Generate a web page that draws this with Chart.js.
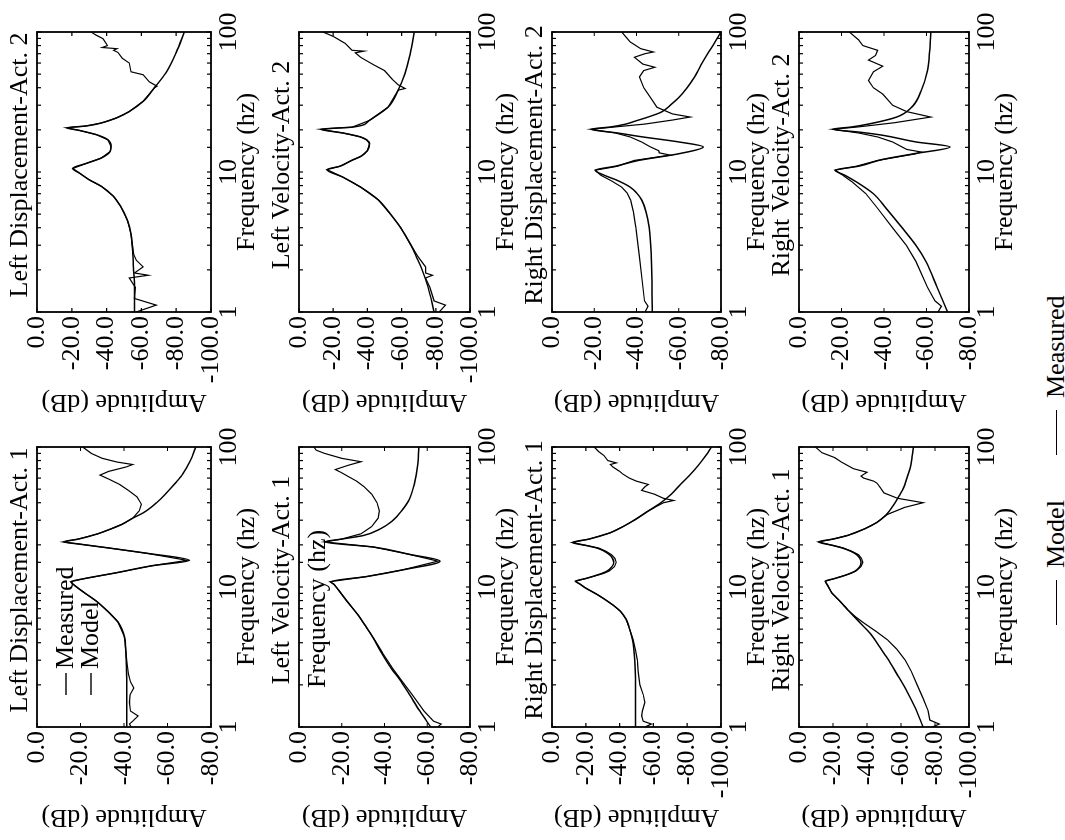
<!DOCTYPE html>
<html>
<head>
<meta charset="utf-8">
<script src="https://cdn.jsdelivr.net/npm/chart.js@4.4.0/dist/chart.umd.min.js"></script>
<style>
  html, body { margin: 0; padding: 0; background: #fff; overflow: hidden; }
  body { width: 1065px; height: 840px; position: relative; }
  /* the figure is laid out upright, then turned a quarter turn like the scanned page */
  #page { position: absolute; left: 0; top: 0; width: 840px; height: 1065px;
          transform-origin: 0 0; transform: translate(0, 840px) rotate(-90deg); }
  #page canvas { position: absolute; }
  .key { position: absolute; top: 1041px; height: 30px; display: flex; align-items: center;
         font: 26px "Liberation Serif", "Times New Roman", serif; color: #000; }
  .key i { display: inline-block; width: 45px; border-top: 1.5px solid #000; margin-right: 12px; }
</style>
</head>
<body>
<div id="page">
  <div class="key" style="left:215px"><i></i>Model</div>
  <div class="key" style="left:385px"><i></i>Measured</div>
</div>
<script>
const FONT = '"Liberation Serif", "Times New Roman", serif';

// [frequency (Hz), amplitude (dB)]
const ldAct1Model = [[1,-41.3],[1.5,-41.3],[2,-41.3],[2.5,-41.2],[3,-41],[3.5,-40.8],[4.4,-40.2],[5.6,-37.3],[6.6,-33],[7.9,-27.4],[9.1,-21.8],[10.2,-17.5],[10.9,-15.6],[11.5,-22],[12.6,-36],[14.2,-53],[15.5,-70],[17.4,-50.6],[19,-33],[20.3,-19],[21,-12.2],[22,-19],[24,-28],[26,-34],[28,-39],[31,-44],[34,-49],[40,-55],[46,-59],[55,-63.5],[64,-67],[80,-70.5],[100,-73]];
const ldAct1Measured = [[1,-43.3],[1.05,-42.5],[1.1,-44],[1.2,-46.5],[1.3,-43],[1.5,-42.5],[1.7,-42.8],[1.9,-44.5],[2.1,-43],[2.4,-42],[2.8,-41.5],[3.3,-41],[4,-40.5],[4.4,-40.2],[5.6,-37.3],[6.6,-33],[7.9,-27.4],[9.1,-21.8],[10.2,-17.5],[10.9,-15.4],[11.5,-22],[12.6,-36],[14.2,-53],[15.5,-69],[17.4,-50.6],[19,-33],[20.3,-19],[21,-12],[22,-19],[24,-28],[26,-34],[28,-39],[31,-44],[35,-47],[39,-48],[44,-46],[49,-42],[54,-38],[59,-33],[63,-29],[67,-33],[72,-41],[75,-44],[78,-37],[83,-30],[90,-25],[100,-21]];

const lvAct1Model = [[1,-61.6],[1.3,-56.5],[1.7,-51.7],[2.2,-47],[2.6,-43.3],[3.4,-38.5],[4.3,-34.8],[5.3,-31],[6.3,-27.7],[7.9,-22.5],[9.5,-18.5],[10.4,-16.5],[10.9,-15],[11.9,-32],[13.3,-49],[15.3,-66],[17.1,-51.7],[19.3,-34.8],[21,-12],[22,-20],[23.3,-30],[26,-38],[29.5,-43.5],[35,-48],[42,-51.5],[55,-54],[75,-55.5],[100,-56]];
const lvAct1Measured = [[1,-65],[1.05,-66.5],[1.1,-63],[1.3,-58.5],[1.7,-53],[2.2,-47.5],[2.6,-44],[3.4,-39],[4.3,-35],[5.3,-31],[6.3,-27.7],[7.9,-22.5],[9.5,-18.5],[10.4,-16.5],[10.9,-14.5],[11.9,-32],[13.3,-49],[15.3,-65],[17.1,-51.7],[19.3,-34.8],[21,-12],[22,-20],[24,-29],[27,-34],[31,-37],[35,-37.6],[40,-36.5],[46,-34],[52,-30.5],[57,-27],[61,-23.5],[66,-19.5],[69,-17],[74,-23],[78.5,-29],[83,-20],[90,-12],[95,-8],[100,-7]];

const rdAct1Model = [[1,-49.4],[2,-49.4],[3,-49],[4.2,-47.6],[5.2,-45.5],[5.9,-43.8],[6.7,-40.5],[7.4,-36.3],[8.2,-31],[8.8,-27],[9.9,-19.5],[10.5,-16.5],[11,-13.9],[11.5,-20],[12,-25],[12.5,-29.5],[13,-32.6],[14,-35.5],[15,-36.5],[16,-35.8],[17,-34],[18,-31],[19,-26.5],[19.8,-20],[20.8,-12],[22,-22],[24.4,-34.5],[27,-42],[30.4,-49.4],[35,-57],[40,-64.4],[46,-70.5],[53.6,-75.7],[63,-81.5],[75,-87],[87,-91],[100,-94.4]];
const rdAct1Measured = [[1,-55],[1.05,-58.8],[1.1,-54],[1.2,-53],[1.3,-53.5],[1.5,-55],[1.7,-54],[2,-52],[2.5,-51],[3,-50.5],[3.5,-49.5],[4.2,-48],[5.2,-45.5],[5.9,-43.8],[6.7,-40.5],[7.4,-36.3],[8.2,-31],[8.8,-27],[9.9,-19.5],[10.5,-16.5],[11,-13.9],[11.5,-20],[12,-25.5],[12.5,-30.5],[13,-33.8],[14,-37],[15,-38],[16,-37.2],[17,-35.2],[18,-32],[19,-27.5],[19.8,-20.5],[20.8,-12],[22,-22],[24.4,-34.5],[27,-42],[30.4,-49.4],[34,-55.5],[37,-60.7],[40,-66],[41.5,-72],[43,-66],[46,-60.7],[49,-53],[52,-55],[54,-57],[57,-50],[60,-45.7],[64,-42],[67,-40],[72,-36],[75,-34.5],[77,-38],[80,-33],[87,-30.7],[93,-27.5],[100,-25]];

const rvAct1Model = [[1,-73],[1.4,-68],[1.8,-63.5],[2.4,-57.5],[3.1,-52],[3.8,-47],[4.6,-42.3],[5.3,-37.5],[6.1,-32.7],[6.9,-28.5],[7.7,-25],[8.4,-22],[9.1,-19.2],[10.2,-17],[11,-15.5],[11.5,-21],[12,-26],[12.5,-30],[13,-33],[14,-35.8],[15,-36.5],[16,-35.8],[17,-34],[18,-30.5],[19,-25.5],[19.8,-20],[21,-11.5],[22,-20],[23.4,-28.8],[26,-38.5],[29,-46],[33,-51.5],[38.8,-55.8],[45,-59],[51,-61.5],[60,-63.5],[71,-65.4],[85,-66.5],[100,-67.3]];
const rvAct1Measured = [[1,-78.5],[1.05,-82.5],[1.12,-77],[1.3,-76],[1.6,-73],[2,-69.5],[2.5,-66],[3,-62.5],[3.6,-57.5],[4.2,-52],[4.8,-45.5],[5.5,-38.5],[6.1,-33.5],[6.9,-28.5],[7.7,-25],[8.4,-22],[9.1,-19.2],[10.2,-17],[11,-15.5],[11.5,-21],[12,-26],[12.5,-30.5],[13,-33.5],[14,-36.5],[15,-37.5],[16,-36.8],[17,-35],[18,-31],[19,-26],[19.8,-20],[21,-11.5],[22,-20],[23.4,-28.8],[26,-38.5],[29,-46],[33,-52],[37,-62],[40,-73],[43,-58],[47,-50],[51,-48],[55,-46],[57,-44],[60,-38],[62,-36.5],[66,-40],[70,-32],[78,-25],[84,-21],[91,-13.5],[100,-9.6]];

const ldAct2Model = [[1,-56],[1.5,-56],[2,-55.5],[2.6,-55],[3.6,-54],[4.5,-52],[5.7,-48],[6.7,-44],[7.9,-37],[8.8,-30],[9.8,-24.5],[10.6,-20.6],[11.6,-29],[12.6,-37],[14,-42],[15.2,-42.6],[17,-40.7],[18.5,-34],[19.8,-24.5],[20.7,-17],[21.3,-28],[22.4,-37],[24.3,-45.5],[27,-53],[32,-61],[40,-67.5],[51,-74],[71.5,-80],[100,-84.7]];
const ldAct2Measured = [[1,-57],[1.12,-68.5],[1.25,-56],[1.5,-56.5],[1.75,-53],[1.83,-64],[1.9,-56],[2.1,-61],[2.35,-57],[2.6,-55.5],[3.6,-54],[4.5,-52],[5.7,-48],[6.7,-44],[7.9,-37],[8.8,-30],[9.8,-24.5],[10.6,-20.6],[11.6,-29],[12.6,-37],[14,-42],[15.2,-42.6],[17,-40.7],[18.5,-34],[19.8,-24.5],[20.7,-17],[21.3,-28],[22.4,-37],[24.3,-45.5],[27,-53],[32,-61],[40,-67.5],[41,-69],[44,-64.6],[49.5,-61],[52,-54],[60,-53],[65,-49],[71.5,-46.5],[74,-44],[76,-46],[77.5,-37.5],[80,-40.5],[82,-40],[89.5,-38],[95,-34],[100,-31]];

const lvAct2Model = [[1,-79],[1.5,-75.5],[2,-72],[2.5,-68.5],[3,-65.5],[4,-59.5],[5,-53.5],[6.3,-46.5],[7.8,-36],[9.2,-25.6],[10.4,-16.4],[11,-24],[12.1,-30.8],[13,-36.5],[14.2,-40],[15.9,-41.3],[17,-39.5],[17.8,-36],[19,-25.6],[20.2,-12.5],[20.6,-22],[20.9,-31],[23.3,-41],[29,-52],[38.4,-58],[50.5,-62],[70,-65],[100,-67.4]];
const lvAct2Measured = [[1,-82],[1.12,-85.6],[1.2,-79],[1.5,-76.5],[1.75,-74],[1.83,-78],[1.9,-74],[2.1,-74],[2.5,-69.5],[3,-65.5],[4,-59.5],[5,-53.5],[6.3,-46.5],[7.8,-36],[9.2,-25.6],[10.4,-16.4],[11,-24],[12.1,-30.8],[13,-36.5],[14.2,-40],[15.9,-41.3],[17,-39.5],[17.8,-36],[19,-25.6],[20.2,-12.5],[20.6,-22],[20.9,-31],[23.3,-41],[29,-52],[38.4,-58],[39.5,-62],[42,-58],[46,-54.5],[53,-50],[58,-44],[66,-36],[71,-33],[73,-38],[74,-31],[83,-27],[93,-20],[100,-14]];

const rdAct2Model = [[1,-47.5],[2.5,-47],[4,-46],[5.2,-44.5],[6.3,-42.5],[7.1,-40],[7.8,-37],[8.7,-31],[9.5,-24.6],[10.3,-20.5],[11,-30],[12.1,-41],[13.5,-60],[15.1,-71.6],[16.4,-60],[17.8,-43],[19,-31],[20.2,-18.4],[21,-28],[22,-35],[23,-39],[24.7,-45.5],[26.8,-51.8],[30,-56],[34,-60],[40,-64],[47.8,-67.5],[58,-70.5],[70,-73.7],[84,-77],[100,-80]];
const rdAct2Measured = [[1,-44],[1.1,-45.5],[1.2,-43.8],[2.5,-41.4],[4,-39.7],[5.2,-38.5],[6.3,-37.2],[7.1,-35.5],[7.8,-33],[8.7,-27.8],[9.5,-23],[10.3,-20.5],[11,-31],[12.1,-39],[13.2,-56],[13.7,-50.8],[14.2,-50.5],[15.1,-46.6],[16.4,-42.4],[17.8,-37],[19,-30],[20.2,-18.4],[21,-30],[22,-44],[23.5,-57],[24.7,-65.4],[26,-57],[29,-49.7],[34,-46.6],[40,-43.4],[47.8,-41.4],[53,-43.4],[56,-48.7],[59,-43],[66,-39],[70,-44],[72,-48],[76,-42],[85,-37],[92,-35],[100,-33]];

const rvAct2Model = [[1,-69.9],[1.5,-65],[2.3,-59.7],[3,-55],[4,-48.5],[5.5,-41],[7,-35],[8.5,-27],[9.5,-21.5],[10.3,-16.9],[11,-28],[12.3,-39.4],[13.5,-54],[15.1,-71],[16.4,-55],[18.3,-39.4],[19.3,-28],[20.2,-15.8],[21,-25],[22,-32.7],[24.7,-46],[29,-53],[38,-57.5],[53,-60.5],[74,-61.5],[100,-62]];
const rvAct2Measured = [[1,-65.4],[1.1,-67],[1.2,-64],[1.5,-60.5],[2.3,-55],[3,-50.5],[4,-44],[5.5,-37],[7,-31.5],[8.5,-25],[9.5,-20.5],[10.3,-17],[11,-27],[12.1,-37],[13.5,-55],[13.9,-57.5],[14.5,-50.7],[16.4,-44],[17.8,-37],[19,-28],[20.2,-15.8],[21,-28],[22.5,-45],[24.7,-62],[27,-50.7],[30,-44],[36,-39.4],[40,-35],[45,-32.7],[52,-35],[57,-39.4],[63,-32.7],[68,-36],[74,-37],[80,-30],[88,-28],[100,-23.7]];

const freqLabels = [1, 10, 100];

const panels = [
  { title: 'Left Displacement-Act. 1',  col: 0, row: 0, yMin: -80,  model: ldAct1Model, measured: ldAct1Measured, legend: true },
  { title: 'Left Velocity-Act. 1',      col: 0, row: 1, yMin: -80,  model: lvAct1Model, measured: lvAct1Measured, note: 'Frequency (hz)' },
  { title: 'Right Displacement-Act. 1', col: 0, row: 2, yMin: -100, model: rdAct1Model, measured: rdAct1Measured },
  { title: 'Right Velocity-Act. 1',     col: 0, row: 3, yMin: -100, model: rvAct1Model, measured: rvAct1Measured },
  { title: 'Left Displacement-Act. 2',  col: 1, row: 0, yMin: -100, model: ldAct2Model, measured: ldAct2Measured },
  { title: 'Left Velocity-Act. 2',      col: 1, row: 1, yMin: -100, model: lvAct2Model, measured: lvAct2Measured },
  { title: 'Right Displacement-Act. 2', col: 1, row: 2, yMin: -80,  model: rdAct2Model, measured: rdAct2Measured },
  { title: 'Right Velocity-Act. 2',     col: 1, row: 3, yMin: -80,  model: rvAct2Model, measured: rvAct2Measured },
];

// plot box geometry of the upright page
const boxTop = [37, 299, 552, 799];
const boxHeight = [174, 171, 169, 170];

// box outline, inward tick marks, panel title and the odd bits of text inside some boxes
const panelFrame = {
  id: 'panelFrame',
  afterDatasetsDraw(chart, args, opts) {
    const { ctx, chartArea: a, scales: { x, y } } = chart;
    ctx.save();
    ctx.strokeStyle = '#000';
    ctx.lineWidth = 1.8;
    ctx.strokeRect(a.left, a.top, a.right - a.left, a.bottom - a.top);
    ctx.lineWidth = 1.2;
    ctx.beginPath();
    x.ticks.forEach(t => {
      const px = x.getPixelForValue(t.value);
      ctx.moveTo(px, a.bottom); ctx.lineTo(px, a.bottom - 4);
      ctx.moveTo(px, a.top); ctx.lineTo(px, a.top + 4);
    });
    y.ticks.forEach(t => {
      const py = y.getPixelForValue(t.value);
      ctx.moveTo(a.left, py); ctx.lineTo(a.left + 4, py);
      ctx.moveTo(a.right, py); ctx.lineTo(a.right - 4, py);
    });
    ctx.stroke();

    ctx.fillStyle = '#000';
    ctx.font = '26px ' + FONT;
    ctx.textBaseline = 'middle';
    ctx.textAlign = 'center';
    ctx.fillText(opts.title, (a.left + a.right) / 2 + 7, a.top - 17);

    ctx.textAlign = 'left';
    if (opts.legend) {
      ['Measured', 'Model'].forEach((label, i) => {
        const ly = a.top + 29 + i * 25;
        ctx.beginPath();
        ctx.lineWidth = 1.4;
        ctx.moveTo(a.left + 32, ly); ctx.lineTo(a.left + 54, ly);
        ctx.stroke();
        ctx.fillText(label, a.left + 58, ly);
      });
    }
    if (opts.note) ctx.fillText(opts.note, a.left + 39, a.top + 19);
    ctx.restore();
  }
};

const page = document.getElementById('page');

panels.forEach(p => {
  const canvas = document.createElement('canvas');
  const w = 415, h = 37 + boxHeight[p.row] + 52;
  canvas.width = w; canvas.height = h;
  canvas.style.left = (p.col ? 420 : 5) + 'px';
  canvas.style.top = (boxTop[p.row] - 37) + 'px';
  page.appendChild(canvas);

  const line = (pts, smooth) => ({
    data: pts.map(([f, db]) => ({ x: f, y: db })),
    borderColor: '#000',
    borderWidth: smooth ? 1.5 : 1.2,
    pointRadius: 0,
    cubicInterpolationMode: smooth ? 'monotone' : 'default',
    tension: 0,
    fill: false
  });

  new Chart(canvas, {
    type: 'line',
    data: { datasets: [line(p.measured, false), line(p.model, true)] },
    options: {
      responsive: false,
      animation: false,
      events: [],
      layout: { padding: { top: 37, left: 3, right: 27, bottom: 0 } },
      plugins: {
        legend: { display: false },
        title: { display: false },
        tooltip: { enabled: false },
        panelFrame: { title: p.title, legend: p.legend, note: p.note }
      },
      scales: {
        x: {
          type: 'logarithmic',
          min: 1,
          max: 100,
          grid: { display: false, drawTicks: false },
          border: { display: false },
          ticks: {
            autoSkip: false,
            maxRotation: 0,
            padding: 3,
            color: '#000',
            font: { family: FONT, size: 26 },
            callback: v => freqLabels.includes(v) ? String(v) : ''
          },
          title: { display: true, text: 'Frequency (hz)', color: '#000', padding: 0, font: { family: FONT, size: 26 } },
          afterFit: s => { s.height = 52; }
        },
        y: {
          min: p.yMin,
          max: 0,
          grid: { display: false, drawTicks: false },
          border: { display: false },
          ticks: {
            autoSkip: false,
            stepSize: 20,
            padding: 4,
            color: '#000',
            font: { family: FONT, size: 26 },
            callback: v => v.toFixed(1)
          },
          title: { display: true, text: 'Amplitude (dB)', color: '#000', padding: 0, font: { family: FONT, size: 26 } },
          afterFit: s => { s.width = 105; }
        }
      }
    },
    plugins: [panelFrame]
  });
});
</script>
</body>
</html>
